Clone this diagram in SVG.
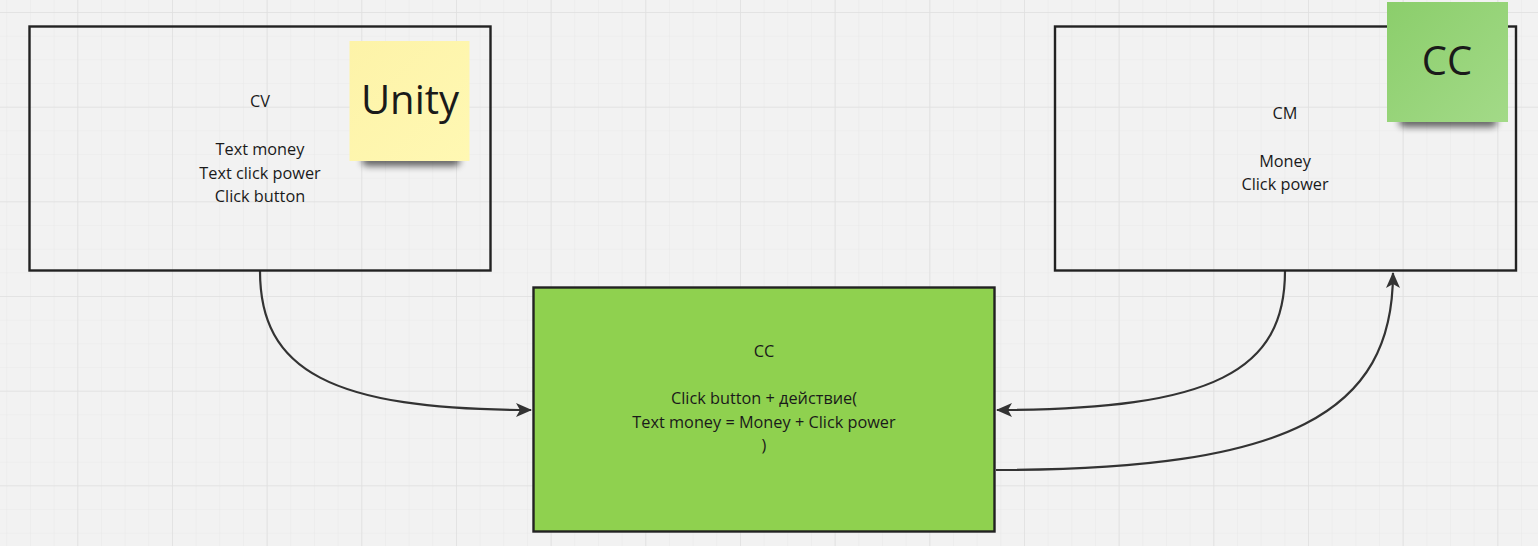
<svg xmlns="http://www.w3.org/2000/svg" width="1538" height="546" viewBox="0 0 1538 546">
  <style>
    .box { fill: none; stroke: #222; stroke-width: 2.4; }
    .t { font-family: "Open Sans", "Liberation Sans", sans-serif; font-size: 16.3px; fill: #1a1a1a; text-anchor: middle; }
    .big { font-family: "Open Sans", "Liberation Sans", sans-serif; font-size: 40px; fill: #1a1a1a; text-anchor: middle; }
    .conn { fill: none; stroke: #333; stroke-width: 2.2; }
  </style>
  <defs>
    <pattern id="minor" x="77.3" y="12" width="23.667" height="23.667" patternUnits="userSpaceOnUse">
      <path d="M0,0 H23.667 M0,0 V23.667" stroke="#e9e9e9" stroke-width="1.2" fill="none"/>
    </pattern>
    <pattern id="major" x="77.3" y="12" width="94.667" height="94.667" patternUnits="userSpaceOnUse">
      <path d="M0,0 H94.667 M0,0 V94.667" stroke="#e0e0e0" stroke-width="1.5" fill="none"/>
    </pattern>
    <marker id="arrow" viewBox="0 0 16 14" refX="15" refY="7" markerWidth="16" markerHeight="14" markerUnits="userSpaceOnUse" orient="auto">
      <path d="M0,0 L16,7 L0,14 L4,7 Z" fill="#333"/>
    </marker>
    <linearGradient id="yellowG" x1="0" y1="0" x2="1" y2="1">
      <stop offset="0" stop-color="#fdf3a8"/>
      <stop offset="1" stop-color="#fff8b3"/>
    </linearGradient>
    <linearGradient id="greenG" x1="0" y1="0" x2="1" y2="1">
      <stop offset="0" stop-color="#8bce6b"/>
      <stop offset="1" stop-color="#a3da88"/>
    </linearGradient>
    <filter id="shadow" x="-20%" y="-100%" width="140%" height="300%">
      <feGaussianBlur stdDeviation="3.5"/>
    </filter>
  </defs>

  <rect width="1538" height="546" fill="#f2f2f2"/>
  <rect width="1538" height="546" fill="url(#minor)"/>
  <rect width="1538" height="546" fill="url(#major)"/>

  <g id="connectors">
    <path class="conn" d="M260,271 C260,370 330,410 531,410" marker-end="url(#arrow)"/>
    <path class="conn" d="M1285,271 C1285,370 1215,410 997,410" marker-end="url(#arrow)"/>
    <path class="conn" d="M996,470 C1290,470 1393,413 1393,273" marker-end="url(#arrow)"/>
  </g>

  <g id="node-cv">
    <rect class="box" x="29.5" y="26.5" width="461" height="244"/>
    <text class="t" x="260" y="107">CV</text>
    <text class="t" x="260" y="155">Text money</text>
    <text class="t" x="260" y="178.5">Text click power</text>
    <text class="t" x="260" y="202">Click button</text>
  </g>

  <g id="node-cm">
    <rect class="box" x="1055" y="26.5" width="461" height="244"/>
    <text class="t" x="1285" y="119">CM</text>
    <text class="t" x="1285" y="166.5">Money</text>
    <text class="t" x="1285" y="190">Click power</text>
  </g>

  <g id="node-cc">
    <rect x="533.5" y="287.5" width="461" height="244" fill="#8fd14f" stroke="#222" stroke-width="2.4"/>
    <text class="t" x="764" y="357">CC</text>
    <text class="t" x="764" y="404">Click button + действие(</text>
    <text class="t" x="764" y="427.5">Text money = Money + Click power</text>
    <text class="t" x="764" y="451">)</text>
  </g>

  <g id="sticky-unity">
    <rect x="362" y="155" width="98" height="11" rx="5" fill="#000" opacity="0.6" filter="url(#shadow)"/>
    <rect x="349.5" y="41" width="120" height="120" fill="url(#yellowG)"/>
    <text class="big" x="410" y="113.5">Unity</text>
  </g>

  <g id="sticky-cc">
    <rect x="1399" y="116" width="98" height="11" rx="5" fill="#000" opacity="0.6" filter="url(#shadow)"/>
    <rect x="1387" y="2" width="121" height="120" fill="url(#greenG)"/>
    <text class="big" x="1447" y="75">CC</text>
  </g>
</svg>
